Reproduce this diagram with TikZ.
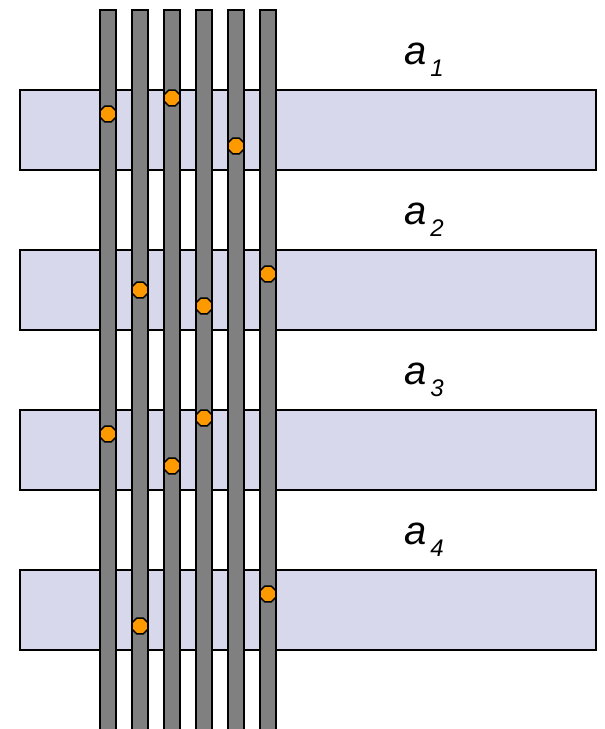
\documentclass[tikz,border=0pt]{standalone}
\usepackage{fontspec}
\setsansfont{Liberation Sans}
\usetikzlibrary{shapes.geometric}
\definecolor{bandfill}{RGB}{216,216,236}
\definecolor{dotfill}{RGB}{255,153,0}
\tikzset{band/.style={draw,line width=2pt,fill=bandfill}}
\tikzstyle{bar}=[draw,line width=2pt,fill=gray]
\tikzstyle{pt}=[regular polygon,regular polygon sides=8,draw,line width=1.5pt,fill=dotfill,minimum size=17pt,inner sep=0pt]
\tikzstyle{lbl}=[font=\fontsize{40}{40}\sffamily\itshape,anchor=base west,inner sep=0pt]

\begin{document}
\begin{tikzpicture}[x=1pt,y=-1pt]
  \useasboundingbox (0,0) rectangle (605,729);
  % bands and their labels
  \foreach \i in {1,...,4} {
    \path[band] (20,{90+160*(\i-1)}) rectangle (596,{170+160*(\i-1)});
    \node[lbl] (a\i) at (404,{64+160*(\i-1)}) {a\hspace{4pt}\raisebox{-12pt}{\fontsize{24}{24}\selectfont\i}};
  }
  % bars
  \foreach \j in {1,...,6}
    \path[bar] ({100+32*(\j-1)},10) rectangle ({116+32*(\j-1)},740);
  % dots
  \foreach \j/\y [count=\k] in {1/114,3/98,5/146,2/290,4/306,6/274,1/434,4/418,3/466,6/594,2/626}
    \node[pt] (p\k) at ({108+32*(\j-1)},\y) {};
\end{tikzpicture}
\end{document}
